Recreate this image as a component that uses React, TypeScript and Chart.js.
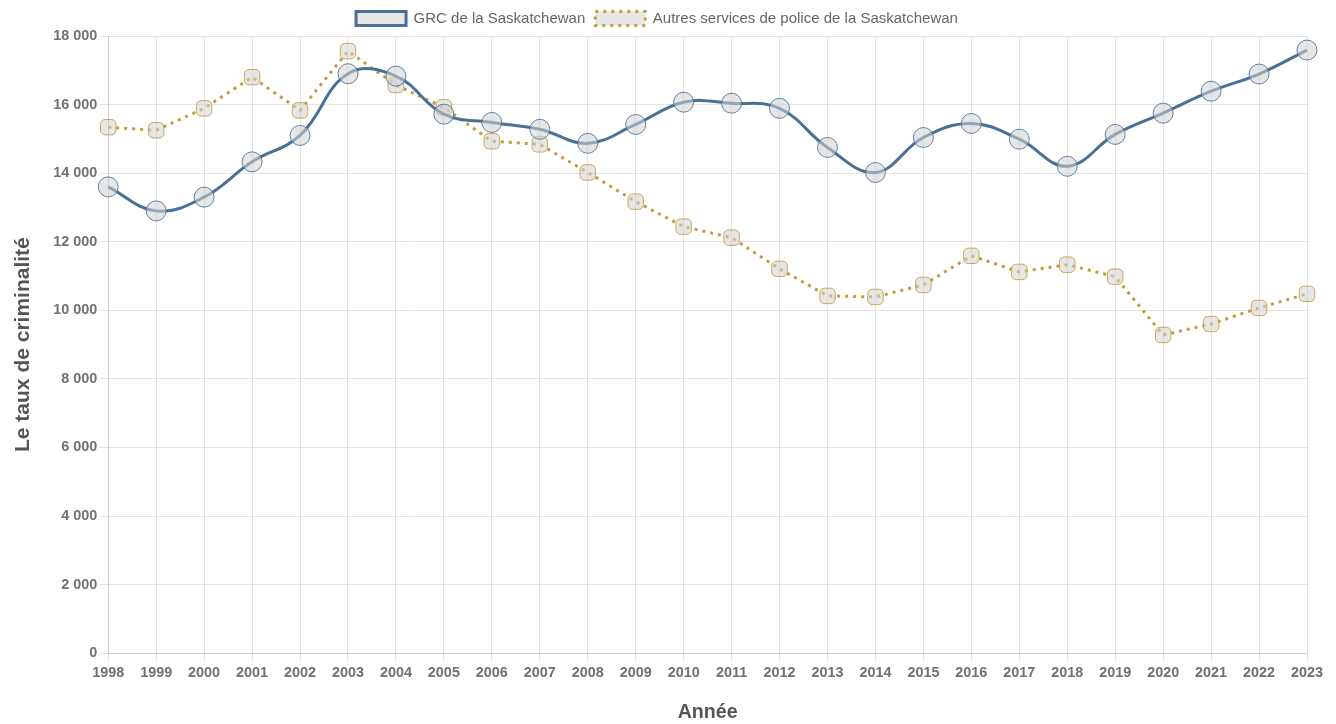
import React, { useEffect, useRef } from "react";
import { Chart, registerables } from "chart.js";

Chart.register(...registerables);

const years = ["1998","1999","2000","2001","2002","2003","2004","2005","2006","2007","2008","2009","2010","2011","2012","2013","2014","2015","2016","2017","2018","2019","2020","2021","2022","2023"];
const grcValues = [13600,12900,13300,14330,15100,16900,16830,15720,15480,15280,14870,15420,16070,16040,15890,14750,14020,15040,15450,14990,14200,15130,15750,16390,16890,17590];
const autresValues = [15340,15250,15890,16800,15830,17560,16570,15920,14930,14840,14020,13170,12440,12120,11210,10420,10390,10740,11590,11120,11330,10980,9280,9600,10070,10480];
const seriesLabels = ["GRC de la Saskatchewan", "Autres services de police de la Saskatchewan"];
const yTitle = "Le taux de criminalité";
const xTitle = "Année";

const fmt = (v: number) => String(v).replace(/\B(?=(\d{3})+(?!\d))/g, " ");
const FAMILY = "Arial, 'Liberation Sans', sans-serif";

export default function App() {
  const ref = useRef<HTMLCanvasElement | null>(null);
  useEffect(() => {
    document.body.style.margin = "0";
    const ctx = ref.current!;
    const blue = "rgb(74,112,150)";
    const gold = "rgb(196,156,58)";
    const chart = new Chart(ctx, {
      type: "line",
      data: {
        labels: years,
        datasets: [
          {
            label: seriesLabels[0],
            data: grcValues,
            borderColor: blue,
            borderWidth: 3,
            backgroundColor: "rgba(215,215,215,0.6)",
            tension: 0.4,
            pointStyle: "circle",
            pointRadius: 10,
            pointHoverRadius: 10,
            pointBorderWidth: 1,
            pointBorderColor: "rgba(74,112,150,0.85)",
            pointBackgroundColor: "rgba(210,210,210,0.55)",
            fill: false,
          },
          {
            label: seriesLabels[1],
            data: autresValues,
            borderColor: gold,
            borderWidth: 3,
            borderDash: [3, 5],
            backgroundColor: "rgba(215,215,215,0.6)",
            tension: 0,
            pointStyle: "rectRounded",
            pointRadius: 9,
            pointHoverRadius: 9,
            pointBorderWidth: 1,
            pointBorderColor: "rgba(196,156,58,0.85)",
            pointBackgroundColor: "rgba(210,210,210,0.55)",
            fill: false,
          },
        ],
      },
      options: {
        animation: false,
        responsive: true,
        maintainAspectRatio: false,
        layout: { padding: { left: 7, right: 29, top: 1, bottom: 0 } },
        plugins: {
          legend: {
            position: "top",
            labels: {
              color: "#666",
              font: { family: FAMILY, size: 15 },
              boxWidth: 50,
              boxHeight: 14,
              padding: 10,
            },
          },
          tooltip: { enabled: false },
        },
        scales: {
          x: {
            offset: false,
            grid: { color: "#e3e3e3" },
            ticks: {
              color: "#707070",
              font: { family: FAMILY, size: 14.4, weight: "bold" },
              maxRotation: 0,
              autoSkip: false,
            },
            title: {
              display: true,
              text: xTitle,
              color: "#555",
              font: { family: FAMILY, size: 19.6, weight: "bold" },
              padding: { top: 16, bottom: 0 },
            },
          },
          y: {
            min: 0,
            max: 18000,
            grid: { color: "#e3e3e3" },
            ticks: {
              stepSize: 2000,
              color: "#707070",
              font: { family: FAMILY, size: 14.4, weight: "bold" },
              callback: (v: any) => fmt(Number(v)),
            },
            title: {
              display: true,
              text: yTitle,
              color: "#555",
              font: { family: FAMILY, size: 21, weight: "bold" },
              padding: { bottom: 14 },
            },
          },
        },
      },
    });
    return () => chart.destroy();
  }, []);
  return (
    <div style={{ position: "relative", width: 1336, height: 724 }}>
      <canvas ref={ref} />
    </div>
  );
}
